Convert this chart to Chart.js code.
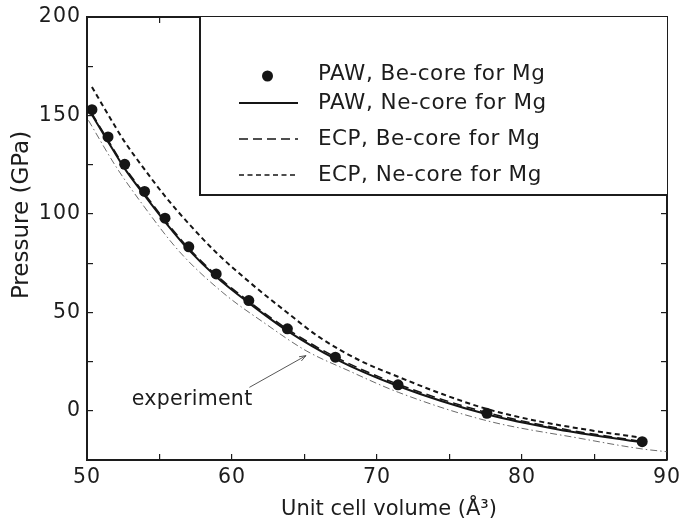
<!DOCTYPE html>
<html>
<head>
<meta charset="utf-8">
<script src="https://cdn.jsdelivr.net/npm/chart.js@4.4.1/dist/chart.umd.min.js"></script>
<style>
  html, body { margin: 0; padding: 0; background: #fff; }
  #wrap { width: 687px; height: 528px; }
</style>
</head>
<body>
<div id="wrap"><canvas id="c" width="687" height="528"></canvas></div>
<script>
// Pressure–volume data for Mg-bearing compound (GPa vs Å^3)
const pawBeVol = [50.34, 51.45, 52.60, 53.97, 55.38, 57.02, 58.91, 61.16, 63.82, 67.13, 71.45, 77.58, 88.29];
const pawBeP   = [152.9, 139.1, 125.2, 111.4, 97.8, 83.3, 69.5, 56.0, 41.6, 27.2, 13.2, -1.3, -15.7];

const pawNeVol = [50.34, 51.45, 52.60, 53.97, 55.38, 57.02, 58.91, 61.16, 63.82, 67.13, 71.45, 77.58, 82.5, 88.29];
const pawNeP   = [150.4, 136.7, 123.0, 109.4, 96.0, 81.7, 68.1, 54.8, 40.6, 26.4, 12.6, -1.8, -9.5, -16.1];

const ecpBeVol = [50.34, 51.45, 52.60, 53.97, 55.38, 57.02, 58.91, 61.16, 63.82, 67.13, 71.45, 77.58, 82.5, 88.29];
const ecpBeP   = [151.0, 137.4, 123.8, 110.2, 96.8, 82.5, 68.9, 55.6, 41.5, 27.3, 13.5, -0.9, -8.8, -15.6];

const ecpNeVol = [50.34, 51.45, 52.60, 53.97, 55.38, 57.02, 58.91, 61.16, 63.82, 66.0, 68.8, 71.45, 74.5, 77.58, 81.0, 84.9, 88.1];
const ecpNeP   = [164.5, 150.5, 136.6, 122.6, 109.0, 95.0, 80.4, 65.6, 49.8, 37.5, 25.6, 17.3, 8.5, 0.9, -5.1, -10.1, -13.5];

const expVol = [50.1, 52.0, 53.86, 56.38, 59.37, 62.35, 65.11, 68.0, 71.5, 77.6, 84.0, 88.3, 90.0];
const expP   = [147.5, 124.0, 104.5, 80.8, 60.0, 44.0, 30.5, 20.5, 9.3, -5.1, -14.0, -19.4, -20.8];

const seriesNames = ['PAW, Be-core for Mg', 'PAW, Ne-core for Mg', 'ECP, Be-core for Mg', 'ECP, Ne-core for Mg', 'experiment'];

// Axis ranges, labelled tick values and titles
const volumeRange = [50, 90];
const pressureRange = [-25, 200];
const volumeLabels = [50, 60, 70, 80, 90];
const pressureLabels = [0, 50, 100, 150, 200];
const xTitle = 'Unit cell volume (Å³)';
const yTitle = 'Pressure (GPa)';

// Annotation for the experimental curve (data coordinates)
const noteText = 'experiment';
const notePos = [57.25, 5.4];
const arrowFrom = [61.2, 11.9];
const arrowTo = [65.1, 28.0];

const zip = (xs, ys) => xs.map((x, i) => ({ x, y: ys[i] }));

const INK = '#1c1c1c';
const FONT = 'DejaVu Sans';
Chart.defaults.font.family = FONT;
Chart.defaults.color = INK;

// Slightly spaced lettering for all canvas text drawn by the scales
const spacing = {
  id: 'spacing',
  beforeDraw(chart) { chart.ctx.letterSpacing = '1px'; },
  afterDraw(chart) { chart.ctx.letterSpacing = '0px'; }
};

// Axis titles
const axisTitles = {
  id: 'axisTitles',
  afterDraw(chart) {
    const { ctx, chartArea: ca } = chart;
    ctx.save();
    ctx.letterSpacing = '0px';
    ctx.fillStyle = INK;
    ctx.textAlign = 'center';
    ctx.textBaseline = 'middle';
    ctx.font = `21px "${FONT}"`;
    ctx.fillText(xTitle, ca.left + 302, ca.bottom + 50);
    ctx.translate(ca.left - 65, ca.top + 198);
    ctx.rotate(-Math.PI / 2);
    ctx.font = `23px "${FONT}"`;
    ctx.fillText(yTitle, 0, 0);
    ctx.restore();
  }
};

// Box legend in the upper right corner of the plot
const boxLegend = {
  id: 'boxLegend',
  afterDatasetsDraw(chart) {
    const { ctx, chartArea: ca } = chart;
    const left = ca.left + 113, bottom = ca.top + 178;
    ctx.save();
    ctx.fillStyle = '#fff';
    ctx.fillRect(left, ca.top, ca.right - left, bottom - ca.top);
    ctx.strokeStyle = INK;
    ctx.lineWidth = 2;
    ctx.beginPath();
    ctx.moveTo(left, ca.top);
    ctx.lineTo(left, bottom);
    ctx.lineTo(ca.right, bottom);
    ctx.stroke();
    const rows = [ca.top + 57, ca.top + 86, ca.top + 122, ca.top + 158];
    const x0 = left + 39, x1 = left + 98, tx = left + 118;
    chart.data.datasets.slice(0, 4).forEach((ds, i) => {
      const y = rows[i];
      ctx.setLineDash([]);
      if (i === 0) {
        ctx.fillStyle = ds.backgroundColor;
        ctx.beginPath();
        ctx.arc((x0 + x1) / 2 - 1, y + 2, ds.pointRadius, 0, Math.PI * 2);
        ctx.fill();
      } else {
        ctx.strokeStyle = ds.borderColor;
        ctx.lineWidth = i === 1 ? 2 : 1.3;
        ctx.setLineDash(ds.borderDash || []);
        ctx.beginPath();
        ctx.moveTo(x0, y);
        ctx.lineTo(x1, y);
        ctx.stroke();
      }
      ctx.setLineDash([]);
      ctx.fillStyle = INK;
      ctx.letterSpacing = '0.5px';
      ctx.font = `21.5px "${FONT}"`;
      ctx.textBaseline = 'middle';
      ctx.textAlign = 'left';
      ctx.fillText(ds.label, tx, y);
    });
    ctx.restore();
  }
};

// Text label with arrow pointing at the experimental curve
const noteArrow = {
  id: 'noteArrow',
  afterDatasetsDraw(chart) {
    const { ctx, scales: { x, y } } = chart;
    const ax = x.getPixelForValue(arrowFrom[0]), ay = y.getPixelForValue(arrowFrom[1]);
    const bx = x.getPixelForValue(arrowTo[0]), by = y.getPixelForValue(arrowTo[1]);
    ctx.save();
    ctx.strokeStyle = '#444';
    ctx.lineWidth = 0.9;
    ctx.beginPath();
    ctx.moveTo(ax, ay);
    ctx.lineTo(bx, by);
    const ang = Math.atan2(by - ay, bx - ax), h = 7;
    ctx.moveTo(bx - h * Math.cos(ang - 0.35), by - h * Math.sin(ang - 0.35));
    ctx.lineTo(bx, by);
    ctx.lineTo(bx - h * Math.cos(ang + 0.35), by - h * Math.sin(ang + 0.35));
    ctx.stroke();
    ctx.fillStyle = INK;
    ctx.letterSpacing = '0.3px';
    ctx.font = `20.5px "${FONT}"`;
    ctx.textAlign = 'center';
    ctx.textBaseline = 'middle';
    ctx.fillText(noteText, x.getPixelForValue(notePos[0]), y.getPixelForValue(notePos[1]));
    ctx.restore();
  }
};

const tickFont = { family: FONT, size: 20.5 };
const inwardGrid = { display: true, drawOnChartArea: false, drawTicks: true, tickLength: -6, color: INK, lineWidth: 1.2 };
const frame = { display: true, color: INK, width: 2 };
const noPad = s => { s.paddingTop = 0; s.paddingBottom = 0; s.paddingLeft = 0; s.paddingRight = 0; };

new Chart(document.getElementById('c'), {
  type: 'scatter',
  data: {
    datasets: [
      { label: seriesNames[0], data: zip(pawBeVol, pawBeP), showLine: false, pointRadius: 5.5,
        pointBorderWidth: 0, backgroundColor: '#151515', borderColor: '#151515' },
      { label: seriesNames[1], data: zip(pawNeVol, pawNeP), showLine: true, pointRadius: 0,
        borderColor: '#151515', borderWidth: 2, cubicInterpolationMode: 'monotone' },
      { label: seriesNames[2], data: zip(ecpBeVol, ecpBeP), showLine: true, pointRadius: 0,
        borderColor: '#151515', borderWidth: 1.5, borderDash: [9, 5], cubicInterpolationMode: 'monotone' },
      { label: seriesNames[3], data: zip(ecpNeVol, ecpNeP), showLine: true, pointRadius: 0,
        borderColor: '#151515', borderWidth: 2, borderDash: [5, 3.5], cubicInterpolationMode: 'monotone' },
      { label: seriesNames[4], data: zip(expVol, expP), showLine: true, pointRadius: 0,
        borderColor: '#5a5a5a', borderWidth: 0.9, borderDash: [7, 3, 1.5, 3], cubicInterpolationMode: 'monotone' }
    ]
  },
  options: {
    responsive: false,
    animation: false,
    devicePixelRatio: 1,
    layout: { padding: { top: 17, right: 20, left: 0, bottom: 0 } },
    plugins: { legend: { display: false }, tooltip: { enabled: false } },
    scales: {
      x: {
        type: 'linear', axis: 'x', position: 'bottom',
        min: volumeRange[0], max: volumeRange[1],
        ticks: { stepSize: 5, autoSkip: false, maxRotation: 0, padding: 11, font: tickFont, color: INK,
                 callback: v => volumeLabels.includes(v) ? String(v) : '' },
        grid: inwardGrid, border: frame,
        afterFit: s => { s.height = 68; noPad(s); }
      },
      x2: {
        type: 'linear', axis: 'x', position: 'top',
        min: volumeRange[0], max: volumeRange[1],
        ticks: { stepSize: 5, display: false },
        grid: inwardGrid, border: frame,
        afterFit: s => { s.height = 0; noPad(s); }
      },
      y: {
        type: 'linear', axis: 'y', position: 'left',
        min: pressureRange[0], max: pressureRange[1],
        ticks: { stepSize: 25, autoSkip: false, padding: 12, font: tickFont, color: INK,
                 callback: v => pressureLabels.includes(v) ? String(v) : '' },
        grid: inwardGrid, border: frame,
        afterFit: s => { s.width = 87; noPad(s); }
      },
      y2: {
        type: 'linear', axis: 'y', position: 'right',
        min: pressureRange[0], max: pressureRange[1],
        ticks: { stepSize: 25, display: false },
        grid: inwardGrid, border: frame,
        afterFit: s => { s.width = 0; noPad(s); }
      }
    }
  },
  plugins: [spacing, axisTitles, boxLegend, noteArrow]
});
</script>
</body>
</html>
